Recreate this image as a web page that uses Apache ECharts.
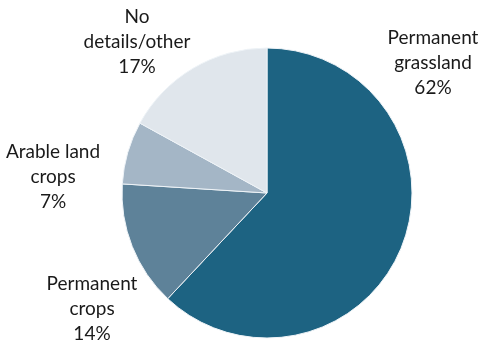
<!DOCTYPE html>
<html><head><meta charset="utf-8">
<script src="https://cdn.jsdelivr.net/npm/echarts@6/dist/echarts.min.js"></script>
<style>html,body{margin:0;padding:0;background:#fff}#c{width:481px;height:343px}</style>
</head><body><div id="c"></div>
<script>
const categories = ['Permanent\ngrassland', 'Permanent\ncrops', 'Arable land\ncrops', 'No\ndetails/other'];
const values = [62, 14, 7, 17];
const colors = ['#1d6382', '#5e8299', '#a4b6c6', '#e0e6ec'];
const labelPos = [[433, 63], [92, 309], [53, 177], [137, 42]];

const chart = echarts.init(document.getElementById('c'), null, {renderer: 'canvas'});
chart.setOption({
  animation: false,
  series: [{
    type: 'pie',
    center: [267, 193],
    radius: [0, 145],
    startAngle: 90,
    clockwise: true,
    data: categories.map((n, i) => ({name: n, value: values[i], itemStyle: {color: colors[i]}})),
    itemStyle: {borderColor: '#eef3f7', borderWidth: 1},
    label: {
      show: true,
      formatter: p => p.name + '\n' + p.value + '%',
      fontFamily: 'Lato',
      fontSize: 19,
      lineHeight: 25,
      color: '#1a1a1a',
      align: 'center',
      overflow: 'none',
      width: 200
    },
    labelLine: {show: false},
    labelLayout: p => ({x: labelPos[p.dataIndex][0], y: labelPos[p.dataIndex][1], align: 'center', verticalAlign: 'middle'})
  }]
});
</script></body></html>
